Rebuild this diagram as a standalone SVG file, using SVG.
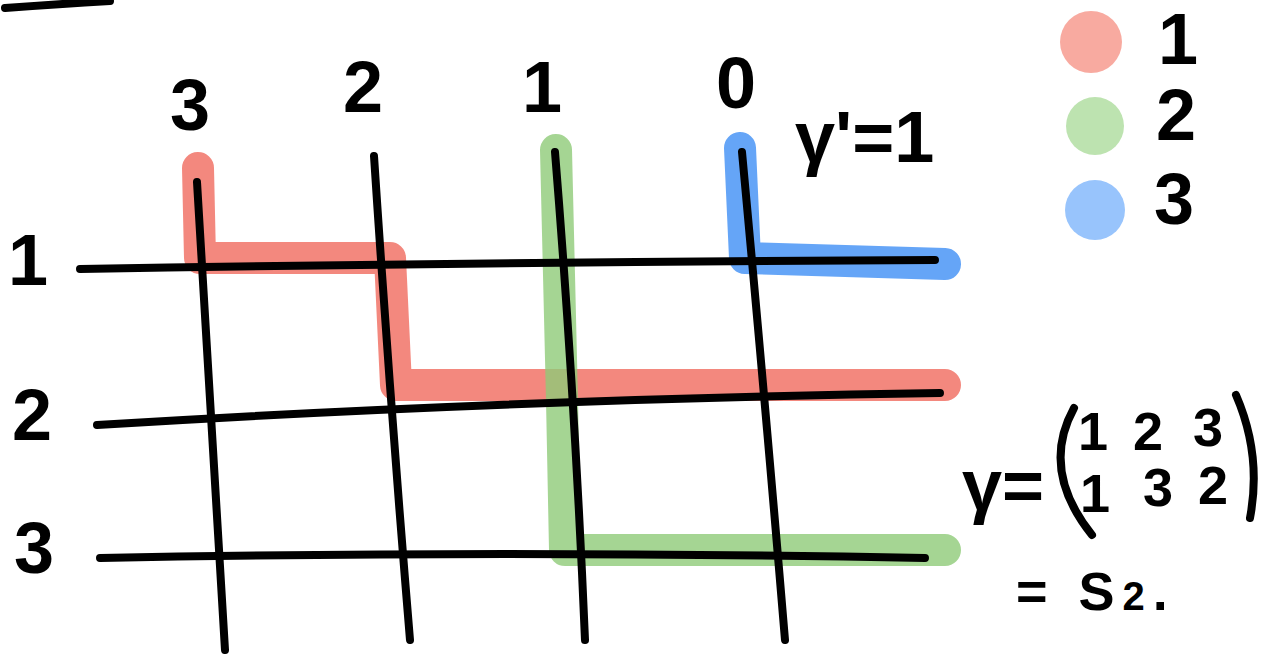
<svg xmlns="http://www.w3.org/2000/svg" width="1274" height="654" viewBox="0 0 1274 654">
<style>
.pen{fill:none;stroke:#000;stroke-width:8;stroke-linecap:round;stroke-linejoin:round}
.hl{fill:none;stroke-width:32;stroke-linecap:round;stroke-linejoin:round;opacity:0.8}
.t{font-family:"Liberation Sans","DejaVu Sans",sans-serif;font-size:72px;fill:#000;font-weight:bold}
.s{font-family:"Liberation Sans","DejaVu Sans",sans-serif;font-size:54px;fill:#000;font-weight:bold}
</style>
<rect width="1274" height="654" fill="#fff"/>
<path class="pen" d="M5 8 Q60 4 110 1" stroke-width="9"/>
<g id="connectors">
<path id="path1" class="hl" stroke="#f06a5e" d="M198 168 L200 258 L390 258 L396 385 L945 385"/>
<path id="path2" class="hl" stroke="#8fcb78" d="M556 150 L562 400 L565 550 L945 550"/>
<path id="path3" class="hl" stroke="#3f8ef5" d="M740 148 L745 258 L945 264"/>
<path class="pen" d="M80 269 Q500 262 935 260"/>
<path class="pen" d="M97 425 Q500 400 940 393"/>
<path class="pen" d="M100 558 Q500 550 925 558"/>
<path class="pen" d="M197 182 Q210 400 225 650"/>
<path class="pen" d="M374 156 Q390 400 410 640"/>
<path class="pen" d="M555 152 Q575 400 585 640"/>
<path class="pen" d="M742 152 Q765 400 785 640"/>
</g>
<g id="col-labels">
<text class="t" x="170" y="130">3</text>
<text class="t" x="343" y="112">2</text>
<text class="t" x="522" y="112">1</text>
<text class="t" x="716" y="108">0</text>
</g>
<g id="row-labels">
<text class="t" x="8" y="285">1</text>
<text class="t" x="12" y="440">2</text>
<text class="t" x="14" y="573">3</text>
</g>
<g id="gamma-prime">
<text class="t" x="795" y="162" font-size="68">γ'=1</text>
</g>
<g id="legend">
<circle cx="1091" cy="42" r="31" fill="#f8aaa0"/>
<circle cx="1095" cy="126" r="29" fill="#bde3b0"/>
<circle cx="1095" cy="210" r="30" fill="#98c4fc"/>
<text class="t" x="1158" y="64" font-size="54">1</text>
<text class="t" x="1156" y="140" font-size="56">2</text>
<text class="t" x="1154" y="224" font-size="64">3</text>
</g>
<g id="gamma-matrix">
<text class="t" x="962" y="510" font-size="66">γ=</text>
<path class="pen" d="M1074 408 Q1040 470 1092 535"/>
<path class="pen" d="M1236 395 Q1262 455 1250 518"/>
<text class="s" x="1078" y="450">1</text>
<text class="s" x="1133" y="450">2</text>
<text class="s" x="1193" y="446">3</text>
<text class="s" x="1080" y="512">1</text>
<text class="s" x="1143" y="506">3</text>
<text class="s" x="1198" y="504">2</text>
<text class="s" x="1016" y="610" letter-spacing="8">= S<tspan font-size="40">2</tspan>.</text>
</g>
</svg>
